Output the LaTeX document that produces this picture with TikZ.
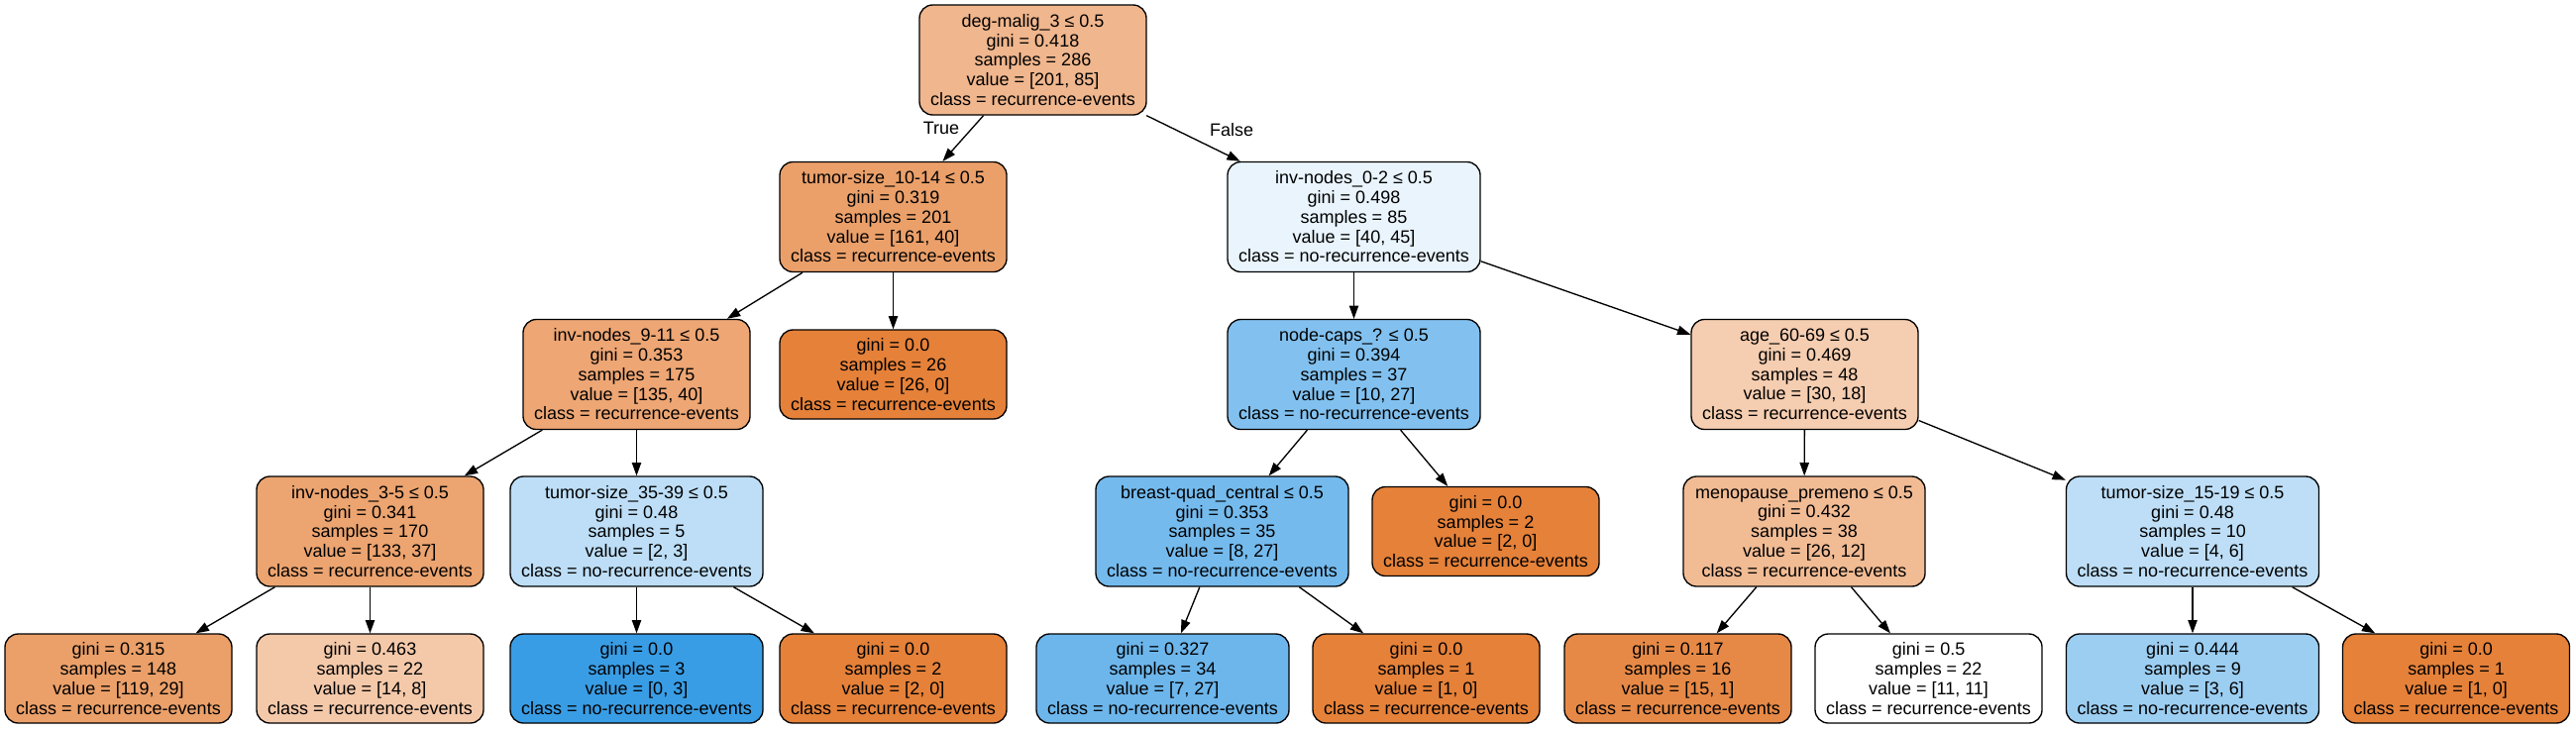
\documentclass[tikz,border=0pt]{standalone}
\usepackage{fontspec}
\setmainfont{Liberation Sans}
\usetikzlibrary{arrows.meta}
\definecolor{cA}{RGB}{229,129,57}
\definecolor{cB}{RGB}{57,157,229}
\begin{document}
\begin{tikzpicture}[x=0.75pt,y=-0.75pt,
  box/.style={draw=black,line width=1pt,rounded corners=10pt,align=center,inner sep=0pt,font=\fontsize{13.5pt}{14.8pt}\selectfont},
  recw/.style={box,minimum width=171.75pt},
  norecw/.style={box,minimum width=191.25pt},
  menow/.style={box,minimum width=183pt},
  intbox/.style={minimum height=83.25pt},
  leafbox/.style={minimum height=67.5pt},
  conn/.style={draw=black,line width=1pt,-{Triangle[length=10pt,width=7pt]}},
  lbl/.style={font=\fontsize{13.5pt}{14.8pt}\selectfont,inner sep=0pt}]
\fill[white] (0,0) rectangle (2600,736);
\useasboundingbox (0,0) rectangle (2600,736);

% level 0
\node[recw,intbox,fill=cA!57.7!white] (n0) at (1042.5,60.5) {deg-malig\_3 ≤ 0.5\\gini = 0.418\\samples = 286\\value = [201, 85]\\class = recurrence-events};
% level 1
\node[recw,intbox,fill=cA!75.2!white] (n1) at (901.5,219) {tumor-size\_10-14 ≤ 0.5\\gini = 0.319\\samples = 201\\value = [161, 40]\\class = recurrence-events};
\node[norecw,intbox,fill=cB!11.1!white] (n2) at (1366.5,219) {inv-nodes\_0-2 ≤ 0.5\\gini = 0.498\\samples = 85\\value = [40, 45]\\class = no-recurrence-events};
% level 2
\node[recw,intbox,fill=cA!70.4!white] (n3) at (642.5,378) {inv-nodes\_9-11 ≤ 0.5\\gini = 0.353\\samples = 175\\value = [135, 40]\\class = recurrence-events};
\node[recw,leafbox,fill=cA] (n4) at (901.5,378) {gini = 0.0\\samples = 26\\value = [26, 0]\\class = recurrence-events};
\node[norecw,intbox,fill=cB!63.0!white] (n5) at (1366.5,378) {node-caps\_? ≤ 0.5\\gini = 0.394\\samples = 37\\value = [10, 27]\\class = no-recurrence-events};
\node[recw,intbox,fill=cA!40!white] (n6) at (1821.5,378) {age\_60-69 ≤ 0.5\\gini = 0.469\\samples = 48\\value = [30, 18]\\class = recurrence-events};
% level 3
\node[recw,intbox,fill=cA!72.2!white] (n7) at (373.5,536.5) {inv-nodes\_3-5 ≤ 0.5\\gini = 0.341\\samples = 170\\value = [133, 37]\\class = recurrence-events};
\node[norecw,intbox,fill=cB!33.3!white] (n8) at (642.5,536.5) {tumor-size\_35-39 ≤ 0.5\\gini = 0.48\\samples = 5\\value = [2, 3]\\class = no-recurrence-events};
\node[norecw,intbox,fill=cB!70.4!white] (n9) at (1233.5,536.5) {breast-quad\_central ≤ 0.5\\gini = 0.353\\samples = 35\\value = [8, 27]\\class = no-recurrence-events};
\node[recw,leafbox,fill=cA] (n10) at (1499.5,536.5) {gini = 0.0\\samples = 2\\value = [2, 0]\\class = recurrence-events};
\node[menow,intbox,fill=cA!53.8!white] (n11) at (1821,536.5) {menopause\_premeno ≤ 0.5\\gini = 0.432\\samples = 38\\value = [26, 12]\\class = recurrence-events};
\node[norecw,intbox,fill=cB!33.3!white] (n12) at (2213,536.5) {tumor-size\_15-19 ≤ 0.5\\gini = 0.48\\samples = 10\\value = [4, 6]\\class = no-recurrence-events};
% level 4
\node[recw,leafbox,fill=cA!75.6!white] (n13) at (119.5,685) {gini = 0.315\\samples = 148\\value = [119, 29]\\class = recurrence-events};
\node[recw,leafbox,fill=cA!42.9!white] (n14) at (373.5,685) {gini = 0.463\\samples = 22\\value = [14, 8]\\class = recurrence-events};
\node[norecw,leafbox,fill=cB] (n15) at (642.5,685) {gini = 0.0\\samples = 3\\value = [0, 3]\\class = no-recurrence-events};
\node[recw,leafbox,fill=cA] (n16) at (901.5,685) {gini = 0.0\\samples = 2\\value = [2, 0]\\class = recurrence-events};
\node[norecw,leafbox,fill=cB!74.1!white] (n17) at (1173.5,685) {gini = 0.327\\samples = 34\\value = [7, 27]\\class = no-recurrence-events};
\node[recw,leafbox,fill=cA] (n18) at (1439.5,685) {gini = 0.0\\samples = 1\\value = [1, 0]\\class = recurrence-events};
\node[recw,leafbox,fill=cA!93.3!white] (n19) at (1693.5,685) {gini = 0.117\\samples = 16\\value = [15, 1]\\class = recurrence-events};
\node[recw,leafbox,fill=white] (n20) at (1946.5,685) {gini = 0.5\\samples = 22\\value = [11, 11]\\class = recurrence-events};
\node[norecw,leafbox,fill=cB!50!white] (n21) at (2213,685) {gini = 0.444\\samples = 9\\value = [3, 6]\\class = no-recurrence-events};
\node[recw,leafbox,fill=cA] (n22) at (2479,685) {gini = 0.0\\samples = 1\\value = [1, 0]\\class = recurrence-events};

% edges
\draw[conn] (n0) -- (n1);
\draw[conn] (n0) -- (n2);
\draw[conn] (n1) -- (n3);
\draw[conn] (n1) -- (n4);
\draw[conn] (n2) -- (n5);
\draw[conn] (n2) -- (n6);
\draw[conn] (n3) -- (n7);
\draw[conn] (n3) -- (n8);
\draw[conn] (n5) -- (n9);
\draw[conn] (n5) -- (n10);
\draw[conn] (n6) -- (n11);
\draw[conn] (n6) -- (n12);
\draw[conn] (n7) -- (n13);
\draw[conn] (n7) -- (n14);
\draw[conn] (n8) -- (n15);
\draw[conn] (n8) -- (n16);
\draw[conn] (n9) -- (n17);
\draw[conn] (n9) -- (n18);
\draw[conn] (n11) -- (n19);
\draw[conn] (n11) -- (n20);
\draw[conn] (n12) -- (n21);
\draw[conn] (n12) -- (n22);

% edge labels
\node[lbl] (ltrue) at (950,129) {True};
\node[lbl] (lfalse) at (1243,131) {False};
\end{tikzpicture}
\end{document}
